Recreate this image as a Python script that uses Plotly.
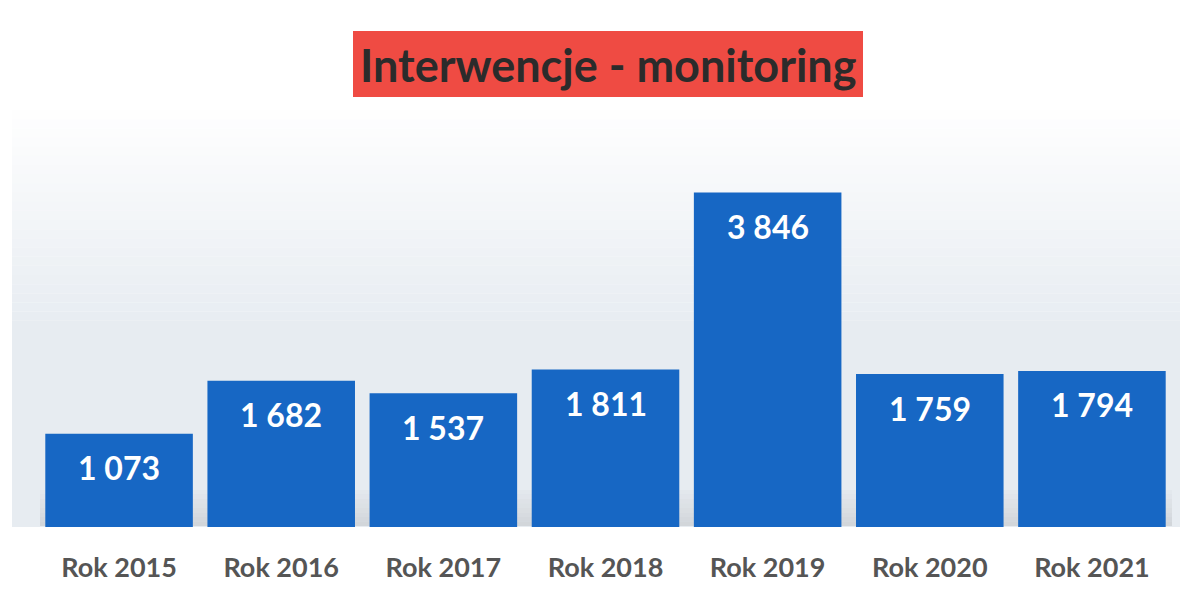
import plotly.graph_objects as go

# data
years = ["Rok 2015", "Rok 2016", "Rok 2017", "Rok 2018", "Rok 2019", "Rok 2020", "Rok 2021"]
values = [1073, 1682, 1537, 1811, 3846, 1759, 1794]
title_text = "Interwencje - monitoring"

# page body has an 8px default margin, so the figure is drawn 8px in from the corner
OFF = 8
W, H = 1188 - OFF, 596 - OFF
ml, mr, mt, mb = 38 - OFF, 15, 153 - OFF, 69
plot_h = H - mt - mb


def py(pix):
    # screen pixel row -> paper y
    return (H - mb - (pix - OFF)) / plot_h


def px(pix):
    return (pix - OFF - ml) / (W - ml - mr)


fig = go.Figure()
fig.add_trace(go.Bar(x=years, y=values, marker=dict(color="#1767c4", line=dict(width=0)),
                     hoverinfo="x+y"))

# soft background band (scan look)
shapes = []
n = 24
top, mid = 110, 330
for i in range(n):
    y0 = top + (mid - top) * i / n
    y1 = top + (mid - top) * (i + 1) / n
    a = 0.9 * (i + 1) / n
    shapes.append(dict(type="rect", xref="paper", yref="paper", layer="below",
                       x0=px(12), x1=px(1188), y0=py(y1), y1=py(y0),
                       fillcolor=f"rgba(228,234,240,{a:.3f})", line=dict(width=0)))
shapes.append(dict(type="rect", xref="paper", yref="paper", layer="below",
                   x0=px(12), x1=px(1188), y0=py(527), y1=py(mid),
                   fillcolor="rgba(228,234,240,0.9)", line=dict(width=0)))
for i in range(8):
    y0 = 490 + i * 4.5
    shapes.append(dict(type="rect", xref="paper", yref="paper", layer="below",
                       x0=px(40), x1=px(1172), y0=py(y0 + 4.5), y1=py(y0),
                       fillcolor=f"rgba(190,192,196,{0.08 + 0.06 * i:.3f})", line=dict(width=0)))
# title box
shapes.append(dict(type="rect", xref="paper", yref="paper",
                   x0=px(353), x1=px(863), y0=py(97), y1=py(31),
                   fillcolor="#ef4b43", line=dict(width=0)))

annotations = [dict(xref="paper", yref="paper", x=px(608), y=py(65), text=title_text,
                    showarrow=False, xanchor="center", yanchor="middle",
                    font=dict(family="Lato", size=45, color="#2b2b2b", weight="bold"))]
for yr, v in zip(years, values):
    annotations.append(dict(x=yr, y=v, yshift=-34, text=f"{v:,}".replace(",", " "),
                            showarrow=False, yanchor="middle",
                            font=dict(family="Lato", size=32, color="white", weight="bold")))

fig.update_layout(
    width=W, height=H,
    margin=dict(l=ml, r=mr, t=mt, b=mb),
    paper_bgcolor="white", plot_bgcolor="rgba(0,0,0,0)",
    bargap=0.09,
    showlegend=False,
    shapes=shapes,
    annotations=annotations,
    xaxis=dict(showgrid=False, zeroline=False, showline=False, ticks="",
               ticklabelstandoff=22,
               tickfont=dict(family="Lato", size=27, color="#555555", weight="bold")),
    yaxis=dict(range=[0, 4300], visible=False, showgrid=False, zeroline=False),
)

fig.write_html("out.html")
